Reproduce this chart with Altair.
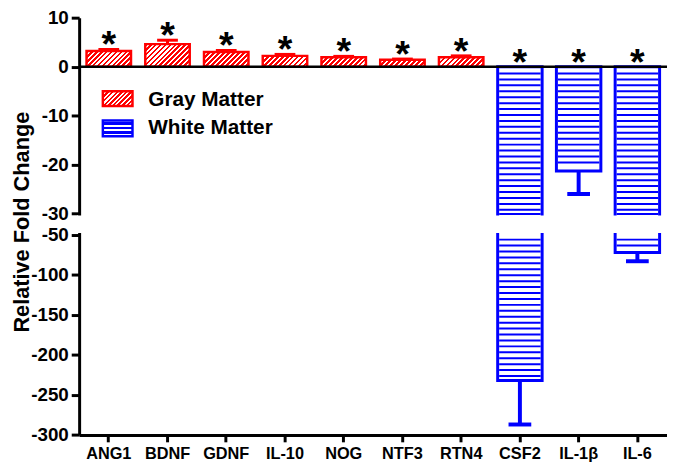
import altair as alt
import pandas as pd

# ---------------- data ----------------
categories = ["ANG1", "BDNF", "GDNF", "IL-10", "NOG", "NTF3", "RTN4", "CSF2", "IL-1β", "IL-6"]
groups = ["Gray Matter"] * 7 + ["White Matter"] * 3
means = [3.2, 4.6, 3.0, 2.2, 1.9, 1.4, 1.9, -232, -21.3, -72]
errors = [0.3, 0.8, 0.3, 0.3, 0.2, 0.15, 0.3, 55, 4.7, 11]
legend_labels = ["Gray Matter", "White Matter"]
y_ticks = [10, 0, -10, -20, -30, -50, -100, -150, -200, -250, -300]
y_title = "Relative Fold Change"

df = pd.DataFrame({"cat": categories, "group": groups, "mean": means, "err": errors})

# ---------------- layout / style ----------------
W = 595
H = 422.3
Y_DOMAIN = [-300, -50, -30, 10]          # broken axis: lower segment, gap, upper segment
Y_RANGE = [H, 219.8, 198.3, 0]
PXU = (Y_RANGE[2] - Y_RANGE[3]) / (Y_DOMAIN[3] - Y_DOMAIN[2])   # px per unit, upper part
BAND = 45
RED = "#ff0000"
BLUE = "#0000ff"
FONT = "Liberation Sans"

yscale = alt.Scale(domain=Y_DOMAIN, range=Y_RANGE, zero=False, nice=False)
xscale = alt.Scale(domain=categories, paddingInner=0.243, paddingOuter=0.126)

x_axis = alt.Axis(title=None, labelAngle=0, labelFont=FONT, labelFontWeight="bold",
                  labelFontSize=16.5, labelColor="black", labelPadding=4,
                  domainColor="black", domainWidth=3, tickColor="black", tickWidth=3,
                  tickSize=7, labelOverlap=False, grid=False, zindex=0)
y_axis = alt.Axis(title=None, values=y_ticks, grid=False, labelFont=FONT,
                  labelFontWeight="bold", labelFontSize=19, labelColor="black",
                  labelExpr="toString(datum.value)",
                  labelPadding=3, domainColor="black", domainWidth=3, tickColor="black",
                  tickWidth=3, tickSize=8, labelOverlap=False, zindex=0)

X = alt.X("cat:N", scale=xscale, sort=categories, axis=x_axis)


def Y(field):
    return alt.Y(field, scale=yscale, axis=y_axis)


def diag_gradient(w, h, period=5.0, frac=0.55):
    """Red fill with white '/' stripes (approx. 45 degrees) for a w x h box."""
    L = w + h
    k = L / (w * w + h * h)
    stops = []
    i = 0
    while i * period < L:
        a = min(i * period / L, 1)
        b = min((i * period + frac * period) / L, 1)
        c = min((i + 1) * period / L, 1)
        stops += [(a, RED), (b, RED), (b, "white"), (c, "white")]
        i += 1
    return alt.LinearGradient(
        gradient="linear",
        stops=[alt.GradientStop(offset=o, color=col) for o, col in stops],
        x1=0, y1=0, x2=k * w, y2=k * h)


def horiz_gradient(h, period=4.5, frac=0.45):
    stops = []
    i = 0
    while i * period < h:
        a = min(i * period / h, 1)
        b = min((i * period + frac * period) / h, 1)
        c = min((i + 1) * period / h, 1)
        stops += [(a, "white"), (b, "white"), (b, BLUE), (c, BLUE)]
        i += 1
    return alt.LinearGradient(
        gradient="linear",
        stops=[alt.GradientStop(offset=o, color=col) for o, col in stops],
        x1=0, y1=0, x2=0, y2=1)


base = alt.Chart(df)
white = base.transform_filter(alt.datum.group == "White Matter")

layers = []

# white-matter bars
layers.append(
    white.mark_bar(fill="white", stroke=BLUE, strokeWidth=3).encode(
        x=X, y=Y("mean:Q"), y2=alt.Y2(datum=0))
)

# horizontal hatch lines, upper segment
layers.append(
    white.transform_calculate(s="sequence(-1.4, max(datum.mean + 0.6, -30.6), -1.21)")
    .transform_flatten(["s"])
    .mark_tick(orient="horizontal", color=BLUE, size=BAND - 3, thickness=2, opacity=1)
    .encode(x=X, y=Y("s:Q"))
)
# horizontal hatch lines, lower segment
layers.append(
    white.transform_calculate(s="datum.mean < -50 ? sequence(-56, datum.mean + 3, -7.41) : []")
    .transform_flatten(["s"])
    .mark_tick(orient="horizontal", color=BLUE, size=BAND - 3, thickness=2, opacity=1)
    .encode(x=X, y=Y("s:Q"))
)

# gray-matter bars, each with its diagonal hatch
for c, g, m in zip(categories, groups, means):
    if g != "Gray Matter":
        continue
    layers.append(
        base.transform_filter(alt.datum.cat == c)
        .mark_bar(fill=diag_gradient(BAND, m * PXU), stroke=RED, strokeWidth=2.5)
        .encode(x=X, y=Y("mean:Q"), y2=alt.Y2(datum=0))
    )

# error bars
err = base.transform_calculate(
    e="datum.group == 'Gray Matter' ? datum.mean + datum.err : datum.mean - datum.err")
layers.append(
    err.transform_filter(alt.datum.group == "Gray Matter")
    .mark_rule(color=RED, strokeWidth=3)
    .encode(x=X, y=Y("mean:Q"), y2="e:Q")
)
layers.append(
    err.transform_filter(alt.datum.group == "Gray Matter")
    .mark_tick(orient="horizontal", color=RED, size=21, thickness=3, opacity=1)
    .encode(x=X, y=Y("e:Q"))
)
layers.append(
    err.transform_filter(alt.datum.group == "White Matter")
    .mark_rule(color=BLUE, strokeWidth=4)
    .encode(x=X, y=Y("mean:Q"), y2="e:Q")
)
layers.append(
    err.transform_filter(alt.datum.group == "White Matter")
    .mark_tick(orient="horizontal", color=BLUE, size=23, thickness=4, opacity=1)
    .encode(x=X, y=Y("e:Q"))
)

one = alt.Chart(pd.DataFrame({"k": [0]}))

# white band hiding the axis break
layers.append(
    one.mark_rect(fill="white").encode(
        x=alt.value(-2), x2=alt.value(W),
        y=alt.Y(datum=-31.8, scale=yscale, axis=y_axis), y2=alt.Y2(datum=-48.2))
)

# zero line
layers.append(
    one.mark_rule(color="black", strokeWidth=2.5).encode(
        y=alt.Y(datum=0, scale=yscale, axis=y_axis))
)

# significance stars
layers.append(
    base.transform_calculate(
        sy="datum.group == 'Gray Matter' ? datum.mean + datum.err : 0")
    .mark_text(text="*", font=FONT, fontWeight="bold", fontSize=38, color="black",
               baseline="alphabetic", dy=8)
    .encode(x=X, y=Y("sy:Q"))
)

# legend
layers.append(
    one.mark_rect(fill=diag_gradient(32, 16), stroke=RED, strokeWidth=2.5).encode(
        x=alt.value(24), x2=alt.value(54), y=alt.value(74.5), y2=alt.value(89.5))
)
layers.append(
    one.mark_rect(fill=horiz_gradient(16), stroke=BLUE, strokeWidth=2.5).encode(
        x=alt.value(24), x2=alt.value(54), y=alt.value(104), y2=alt.value(120))
)
leg = alt.Chart(pd.DataFrame({"label": legend_labels}))
for lbl, ypos in zip(legend_labels, [83, 112]):
    layers.append(
        leg.transform_filter(alt.datum.label == lbl)
        .mark_text(font=FONT, fontWeight="bold", fontSize=21, align="left",
                   baseline="middle", color="black")
        .encode(text="label:N", x=alt.value(70), y=alt.value(ypos))
    )

# y-axis title
layers.append(
    alt.Chart(pd.DataFrame({"t": [y_title]}))
    .mark_text(font=FONT, fontWeight="bold", fontSize=22, angle=270,
               align="center", baseline="middle", color="black")
    .encode(text="t:N", x=alt.value(-58), y=alt.value(207))
)

chart = (
    alt.layer(*layers)
    .properties(width=W, height=H,
                autosize=alt.AutoSizeParams(type="none"),
                padding={"left": 72, "top": 7, "right": 0, "bottom": 30})
    .configure_view(stroke=None)
)

chart.save("out.html", embed_options={"renderer": "svg", "actions": False})
